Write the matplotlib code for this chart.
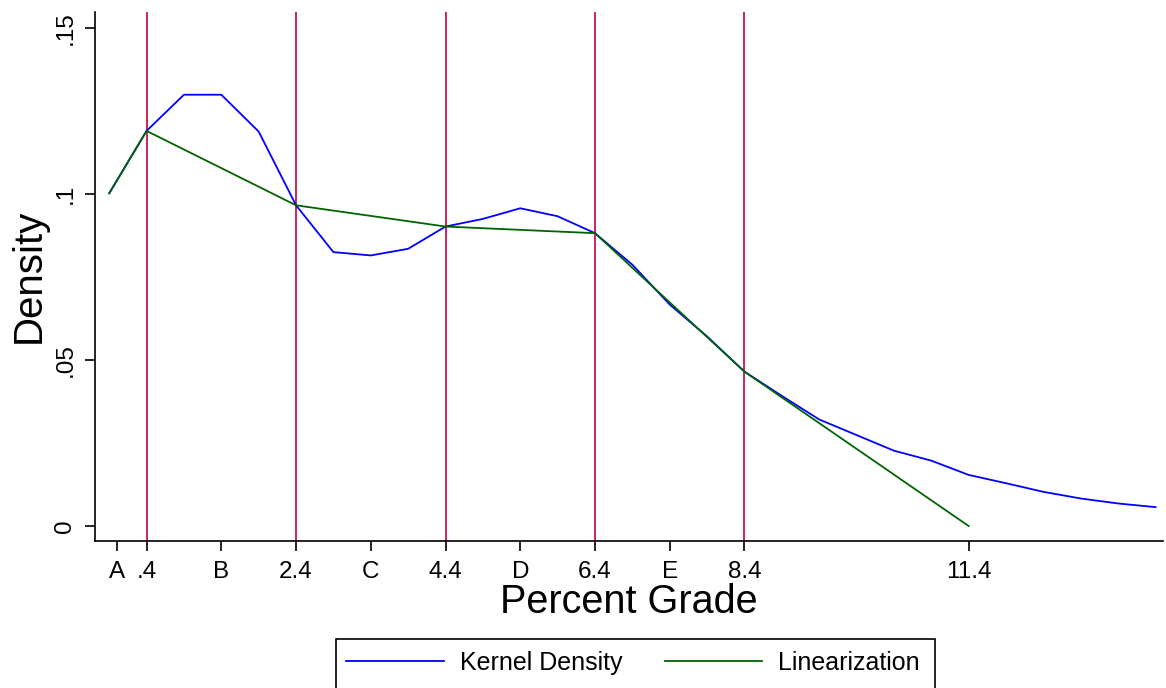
import numpy as np
import matplotlib
matplotlib.use("Agg")
import matplotlib.pyplot as plt
from matplotlib.patches import Rectangle

plt.rcParams['font.family'] = ['Liberation Sans', 'DejaVu Sans']

# kernel density, evaluated every half point
kd_x = [-0.1, 0.4, 0.9, 1.4, 1.9, 2.4, 2.9, 3.4, 3.9, 4.4, 4.9, 5.4, 5.9, 6.4, 6.9,
        7.4, 7.9, 8.4, 8.9, 9.4, 9.9, 10.4, 10.9, 11.4, 11.9, 12.4, 12.9, 13.4, 13.9]
kd_y = [0.1002, 0.1190, 0.1299, 0.1299, 0.1188, 0.0966, 0.0825, 0.0815, 0.0835,
        0.0902, 0.0925, 0.0957, 0.0933, 0.0882, 0.0787, 0.0667, 0.0571, 0.0465,
        0.0392, 0.0321, 0.0274, 0.0227, 0.0197, 0.0154, 0.0129, 0.0103, 0.0083,
        0.0068, 0.0057]

# linearization knots
lin_x = [-0.1, 0.4, 2.4, 4.4, 6.4, 8.4, 11.4]
lin_y = [0.1002, 0.1190, 0.0966, 0.0902, 0.0882, 0.0465, 0.0]

# cut points
cuts = [0.4, 2.4, 4.4, 6.4, 8.4]

xtick_pos = [0, 0.4, 1.4, 2.4, 3.4, 4.4, 5.4, 6.4, 7.4, 8.4, 11.4]
xtick_lab = ['A', '.4', 'B', '2.4', 'C', '4.4', 'D', '6.4', 'E', '8.4', '11.4']
ytick_pos = [0, 0.05, 0.1, 0.15]
ytick_lab = ['0', '.05', '.1', '.15']

fig = plt.figure(figsize=(11.66, 6.88), dpi=100)
ax = fig.add_axes([95/1166, 1-541/688, (1163-95)/1166, (541-11.7)/688])

for c in cuts:
    ax.axvline(c, color='#C8164A', lw=1.3, zorder=1)
kd_line, = ax.plot(kd_x, kd_y, color='#0000FF', lw=1.3, zorder=2)
lin_line, = ax.plot(lin_x, lin_y, color='#006400', lw=1.3, zorder=3)

ax.set_xlim(-0.29, 14.0)
ax.set_ylim(-0.0045, 0.1549)

ax.set_xticks(xtick_pos)
ax.set_xticklabels(xtick_lab)
ax.set_yticks(ytick_pos)
ax.set_yticklabels(ytick_lab, rotation=90, va='center')

ax.spines['top'].set_visible(False)
ax.spines['right'].set_visible(False)
for s in ['left', 'bottom']:
    ax.spines[s].set_linewidth(1.2)
ax.tick_params(axis='both', direction='out', length=7.5, width=1.2, labelsize=17.5)
ax.tick_params(axis='x', pad=7)
ax.tick_params(axis='y', pad=6)

ax.set_xlabel('Percent Grade', fontsize=28.5, labelpad=0)
ax.set_ylabel('Density', fontsize=29, labelpad=5)

leg = fig.legend([kd_line, lin_line], ['Kernel Density', 'Linearization'],
                 loc='center left', bbox_to_anchor=(346/1166, 1-663/688), ncol=2,
                 frameon=False, fontsize=18, handlelength=3.9, handletextpad=0.64,
                 columnspacing=1.7, borderpad=0, borderaxespad=0)

fig.patches.append(Rectangle((336/1166, -0.02), (935-336)/1166, 0.02+(688-639)/688,
                             transform=fig.transFigure, fill=False, edgecolor='black',
                             lw=1.2, clip_on=False))

fig.savefig('out.png', dpi=100)
